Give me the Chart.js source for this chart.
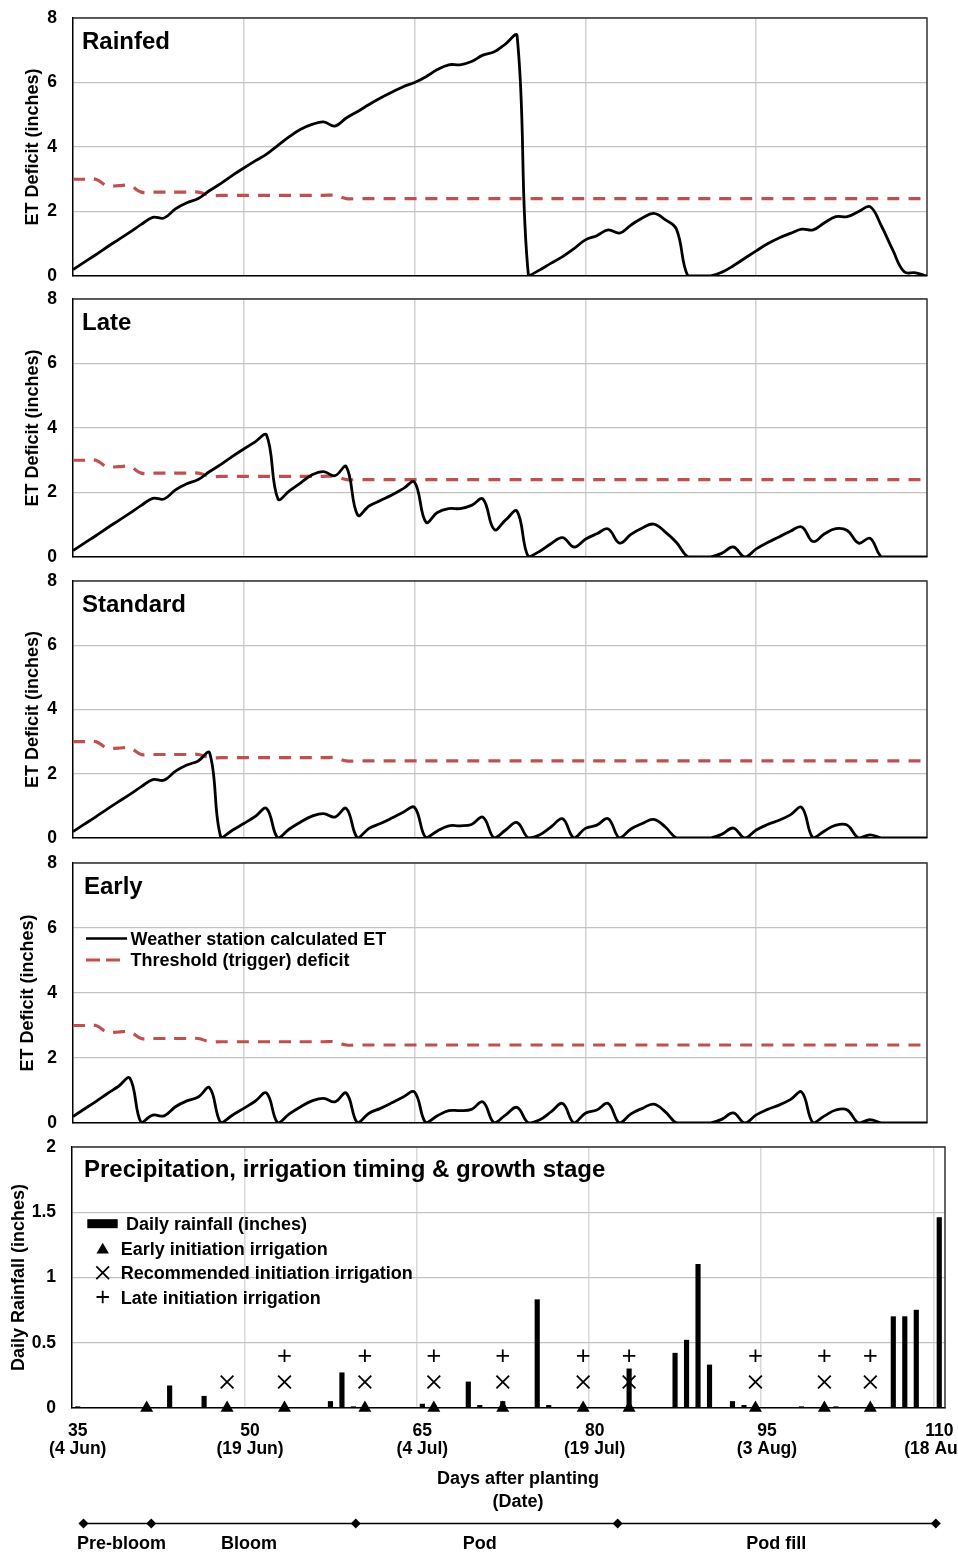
<!DOCTYPE html>
<html lang="en">
<head>
<meta charset="utf-8">
<title>ET deficit, rainfall and irrigation timing</title>
<script src="https://cdn.jsdelivr.net/npm/chart.js@4.4.1/dist/chart.umd.min.js"></script>
<style>
  html, body { margin: 0; padding: 0; background: #ffffff; overflow: hidden; }
  #figure { position: relative; width: 958px; height: 1554px; overflow: hidden; }
  #figure canvas { position: absolute; left: 0; }
</style>
</head>
<body>
<div id="figure">
  <canvas id="rainfedChart" width="958" height="282" style="top:6px"></canvas>
  <canvas id="lateChart" width="958" height="282" style="top:287px"></canvas>
  <canvas id="standardChart" width="958" height="281" style="top:569px"></canvas>
  <canvas id="earlyChart" width="958" height="284" style="top:851px"></canvas>
  <canvas id="rainChart" width="958" height="383" style="top:1135px"></canvas>
  <canvas id="stageChart" width="958" height="50" style="top:1505px"></canvas>
</div>
<script>
const FONT = "'Liberation Sans', Arial, Helvetica, sans-serif";
const RED = "#C0504D";

// ==================== DATA ====================
// days after planting, one entry per day
const days = [
  35, 36, 37, 38, 39, 40, 41, 42, 43, 44, 45, 46, 47, 48, 49,
  50, 51, 52, 53, 54, 55, 56, 57, 58, 59, 60, 61, 62, 63, 64,
  65, 66, 67, 68, 69, 70, 71, 72, 73, 74, 75, 76, 77, 78, 79,
  80, 81, 82, 83, 84, 85, 86, 87, 88, 89, 90, 91, 92, 93, 94,
  95, 96, 97, 98, 99, 100, 101, 102, 103, 104, 105, 106, 107, 108, 109,
  110
];

// threshold (trigger) deficit, inches
const threshold = [
  3.0, 3.0, 3.0, 2.8, 2.8, 2.8, 2.6, 2.6, 2.6, 2.6, 2.6, 2.6, 2.5, 2.5, 2.5,
  2.5, 2.5, 2.5, 2.5, 2.5, 2.5, 2.5, 2.5, 2.5, 2.4, 2.4, 2.4, 2.4, 2.4, 2.4,
  2.4, 2.4, 2.4, 2.4, 2.4, 2.4, 2.4, 2.4, 2.4, 2.4, 2.4, 2.4, 2.4, 2.4, 2.4,
  2.4, 2.4, 2.4, 2.4, 2.4, 2.4, 2.4, 2.4, 2.4, 2.4, 2.4, 2.4, 2.4, 2.4, 2.4,
  2.4, 2.4, 2.4, 2.4, 2.4, 2.4, 2.4, 2.4, 2.4, 2.4, 2.4, 2.4, 2.4, 2.4, 2.4,
  2.4
];

// weather station ET deficit (inches) for each scenario
const rainfedEt = [
  0.2, 0.43, 0.66, 0.9, 1.13, 1.36, 1.6, 1.82, 1.8, 2.08, 2.27, 2.4, 2.65, 2.87, 3.12,
  3.35, 3.57, 3.78, 4.05, 4.32, 4.55, 4.7, 4.78, 4.65, 4.9, 5.1, 5.32, 5.52, 5.7, 5.87,
  6.0, 6.18, 6.4, 6.55, 6.55, 6.65, 6.85, 6.95, 7.2, 7.45, 0, 0.19, 0.4, 0.6, 0.85,
  1.12, 1.25, 1.43, 1.33, 1.58, 1.8, 1.94, 1.75, 1.45, 0, 0, 0, 0.12, 0.32, 0.55,
  0.78, 1.0, 1.18, 1.32, 1.45, 1.43, 1.65, 1.84, 1.84, 2.0, 2.15, 1.55, 0.8, 0.13, 0.1,
  0
];
const lateEt = [
  0.2, 0.43, 0.66, 0.9, 1.13, 1.36, 1.6, 1.82, 1.8, 2.08, 2.27, 2.4, 2.65, 2.87, 3.12,
  3.35, 3.57, 3.78, 1.8, 2.05, 2.3, 2.55, 2.65, 2.52, 2.8, 1.3, 1.58, 1.75, 1.92, 2.12,
  2.32, 1.08, 1.38, 1.5, 1.5, 1.6, 1.8, 0.85, 1.15, 1.42, 0, 0.18, 0.42, 0.6, 0.31,
  0.55, 0.72, 0.87, 0.43, 0.7, 0.9, 1.02, 0.78, 0.45, 0, 0, 0, 0.12, 0.31, 0,
  0.25, 0.45, 0.62, 0.8, 0.93, 0.48, 0.72, 0.88, 0.82, 0.43, 0.58, 0, 0, 0, 0,
  0
];
const standardEt = [
  0.2, 0.43, 0.66, 0.9, 1.13, 1.36, 1.6, 1.82, 1.8, 2.08, 2.27, 2.4, 2.65, 0, 0.24,
  0.45, 0.67, 0.92, 0, 0.28, 0.5, 0.68, 0.76, 0.65, 0.92, 0, 0.3, 0.45, 0.62, 0.8,
  0.95, 0, 0.22, 0.38, 0.38, 0.42, 0.65, 0, 0.25, 0.48, 0, 0.1, 0.35, 0.6, 0,
  0.3, 0.4, 0.6, 0, 0.28, 0.45, 0.58, 0.35, 0, 0, 0, 0, 0.12, 0.31, 0,
  0.25, 0.42, 0.55, 0.72, 0.95, 0, 0.22, 0.4, 0.4, 0, 0.1, 0, 0, 0, 0,
  0
];
const earlyEt = [
  0.2, 0.43, 0.66, 0.9, 1.13, 1.38, 0, 0.24, 0.22, 0.5, 0.68, 0.8, 1.08, 0, 0.24,
  0.45, 0.67, 0.92, 0, 0.28, 0.5, 0.68, 0.76, 0.65, 0.92, 0, 0.3, 0.45, 0.62, 0.8,
  0.95, 0, 0.22, 0.38, 0.38, 0.42, 0.65, 0, 0.25, 0.48, 0, 0.1, 0.35, 0.6, 0,
  0.3, 0.4, 0.6, 0, 0.28, 0.45, 0.58, 0.35, 0, 0, 0, 0, 0.12, 0.31, 0,
  0.25, 0.42, 0.55, 0.72, 0.95, 0, 0.22, 0.4, 0.4, 0, 0.1, 0, 0, 0, 0,
  0
];

// daily rainfall, inches
const rainfall = [
  0.01, 0, 0, 0, 0, 0, 0, 0, 0.17, 0, 0, 0.09, 0, 0, 0,
  0, 0, 0, 0, 0, 0, 0, 0.05, 0.27, 0.01, 0, 0, 0, 0, 0,
  0.03, 0, 0, 0, 0.2, 0.02, 0, 0.05, 0, 0, 0.83, 0.02, 0, 0, 0,
  0, 0, 0, 0.3, 0, 0, 0, 0.42, 0.52, 1.1, 0.33, 0, 0.05, 0.02, 0,
  0, 0, 0, 0.01, 0, 0, 0.01, 0, 0, 0, 0, 0.7, 0.7, 0.75, 0,
  1.46
];

// irrigation dates (days after planting)
const earlyIrrigation = [41, 48, 53, 60, 66, 72, 79, 83, 94, 100, 104];
const recommendedIrrigation = [48, 53, 60, 66, 72, 79, 83, 94, 100, 104];
const lateIrrigation = [53, 60, 66, 72, 79, 83, 94, 100, 104];

// x axis labels
const tickDays = [35, 50, 65, 80, 95, 110];
const tickDates = ["(4 Jun)", "(19 Jun)", "(4 Jul)", "(19 Jul)", "(3 Aug)", "(18 Aug)"];

// growth stages
const stageBounds = [35.5, 41.4, 59.2, 82, 109.7];
const stageNames = ["Pre-bloom", "Bloom", "Pod", "Pod fill"];
const stageLabelDays = [38.8, 49.9, 70, 95.8];

// ==================== SETTINGS ====================
// heights at which the irrigation symbols are stacked in the rainfall panel
const markerRows = { early: 0, recommended: 0.2, late: 0.4 };
const etGridDays = [50, 65, 80, 95];
const rainGridDays = [49.5, 64.5, 79.5, 94.5, 109.5];

Chart.defaults.font.family = FONT;
Chart.defaults.font.weight = "bold";
Chart.defaults.color = "#000";

const baseOptions = {
  responsive: false,
  animation: false,
  events: [],
  devicePixelRatio: 1,
};

// top and right edges of the plot box
const plotFrame = {
  id: "plotFrame",
  beforeDatasetsDraw(chart) {
    const { ctx, chartArea: a } = chart;
    ctx.save();
    ctx.strokeStyle = "#333";
    ctx.lineWidth = 1.5;
    ctx.beginPath();
    ctx.moveTo(a.left, a.top);
    ctx.lineTo(a.right, a.top);
    ctx.lineTo(a.right, a.bottom);
    ctx.stroke();
    ctx.restore();
  }
};

// panel title, in-plot legend and loose text
function panelLabels(cfg) {
  return {
    id: "panelLabels",
    afterDraw(chart) {
      const { ctx, chartArea: a } = chart;
      ctx.save();
      ctx.fillStyle = "#000";
      ctx.strokeStyle = "#000";
      ctx.textBaseline = "alphabetic";
      ctx.textAlign = "left";
      if (cfg.title) {
        ctx.font = `bold 24px ${FONT}`;
        ctx.fillText(cfg.title, a.left + cfg.titleX, a.top + cfg.titleY);
      }
      ctx.font = `bold 18px ${FONT}`;
      (cfg.legend || []).forEach(item => {
        const x = a.left + item.x, y = a.top + item.y;
        ctx.save();
        if (item.kind === "line") {
          ctx.strokeStyle = item.color;
          ctx.lineWidth = item.width;
          ctx.setLineDash(item.dash || []);
          ctx.beginPath();
          ctx.moveTo(x, y);
          ctx.lineTo(x + item.len, y);
          ctx.stroke();
        } else if (item.kind === "box") {
          ctx.fillRect(x, y - item.h / 2, item.len, item.h);
        } else {
          ctx.lineWidth = item.width;
          Chart.helpers.drawPoint(ctx, { pointStyle: item.kind, radius: item.radius, borderWidth: item.width, rotation: 0 }, x, y);
        }
        ctx.restore();
        ctx.fillText(item.text, a.left + item.textX, a.top + item.textY);
      });
      (cfg.notes || []).forEach(n => {
        ctx.textAlign = "center";
        ctx.fillText(n.text, a.left + n.x, a.bottom + n.y);
      });
      ctx.restore();
    }
  };
}

// ==================== ET DEFICIT PANELS ====================
function makeEtChart(canvasId, title, etValues, extra) {
  const ctx = document.getElementById(canvasId).getContext("2d");
  return new Chart(ctx, {
    type: "line",
    data: {
      labels: days,
      datasets: [
        {
          label: "Weather station calculated ET",
          data: etValues,
          borderColor: "#000",
          borderWidth: 2.8,
          pointRadius: 0,
          tension: 0.4,
          order: 1,
        },
        {
          label: "Threshold (trigger) deficit",
          data: threshold,
          borderColor: RED,
          borderWidth: 3.2,
          borderDash: [12, 9],
          pointRadius: 0,
          tension: 0.4,
          order: 2,
        },
      ],
    },
    options: {
      ...baseOptions,
      layout: { padding: { top: 12, bottom: 12, left: 0, right: 31 } },
      plugins: { legend: { display: false }, tooltip: { enabled: false } },
      scales: {
        x: {
          type: "linear",
          min: 35,
          max: 110,
          afterBuildTicks: s => { s.ticks = etGridDays.map(v => ({ value: v })); },
          ticks: { display: false },
          grid: { drawTicks: false, color: "#d2d2d2", lineWidth: 1.5 },
          border: { color: "#000", width: 1.5 },
        },
        y: {
          min: 0,
          max: 8,
          afterFit: s => { s.width = 73; s.paddingTop = 0; s.paddingBottom = 0; },
          ticks: { stepSize: 2, padding: 16, color: "#000", font: { size: 17.5, weight: "bold" } },
          grid: { drawTicks: false, color: "#c2c2c2", lineWidth: 1.2 },
          border: { color: "#000", width: 1.5 },
          title: {
            display: true,
            text: "ET Deficit (inches)",
            color: "#000",
            font: { size: 18, weight: "bold" },
            padding: { top: extra.axisTitlePad, bottom: 0 },
          },
        },
      },
    },
    plugins: [plotFrame, panelLabels({ title, titleX: extra.titleX || 9, titleY: 31, legend: extra.legend })],
  });
}

// ==================== RAINFALL & IRRIGATION PANEL ====================
function makeRainChart() {
  const ctx = document.getElementById("rainChart").getContext("2d");
  const markerSet = (label, list, row, style, radius, width, order) => ({
    type: "scatter",
    label,
    data: list.map(d => ({ x: d, y: row })),
    pointStyle: style,
    pointRadius: radius,
    pointBorderWidth: width,
    pointBorderColor: "#000",
    pointBackgroundColor: "#000",
    clip: false,
    order,
  });

  return new Chart(ctx, {
    type: "bar",
    data: {
      labels: days,
      datasets: [
        markerSet("Late initiation irrigation", lateIrrigation, markerRows.late, "cross", 6.2, 1.8, 1),
        markerSet("Recommended initiation irrigation", recommendedIrrigation, markerRows.recommended, "crossRot", 9, 1.8, 2),
        markerSet("Early initiation irrigation", earlyIrrigation, markerRows.early, "triangle", 7.5, 0, 3),
        {
          type: "bar",
          label: "Daily rainfall (inches)",
          data: rainfall,
          backgroundColor: "#000",
          barThickness: 4.5,
          order: 4,
        },
      ],
    },
    options: {
      ...baseOptions,
      layout: { padding: { top: 12, bottom: 0, left: 0, right: 13 } },
      plugins: { legend: { display: false }, tooltip: { enabled: false } },
      scales: {
        x: {
          type: "linear",
          min: 34.5,
          max: 110.5,
          offset: false,
          afterBuildTicks: s => { s.ticks = tickDays.map(v => ({ value: v })); },
          afterFit: s => { s.height = 110; s.paddingLeft = 0; s.paddingRight = 0; },
          grid: { display: false, drawTicks: false, offset: false },
          border: { color: "#000", width: 1.5 },
          ticks: {
            autoSkip: false,
            maxRotation: 0,
            padding: 14,
            color: "#000",
            font: { size: 17.5, weight: "bold", lineHeight: 1.04 },
            callback: (v, i) => [String(v), tickDates[i]],
          },
        },
        xg: {
          type: "linear",
          axis: "x",
          position: "bottom",
          min: 34.5,
          max: 110.5,
          offset: false,
          afterBuildTicks: s => { s.ticks = rainGridDays.map(v => ({ value: v })); },
          afterFit: s => { s.height = 0; s.paddingLeft = 0; s.paddingRight = 0; },
          grid: { drawTicks: false, offset: false, color: "#dadada", lineWidth: 1.5 },
          border: { display: false },
          ticks: { display: false },
        },
        y: {
          min: 0,
          max: 2,
          afterFit: s => { s.width = 72; s.paddingTop = 0; s.paddingBottom = 0; },
          ticks: {
            stepSize: 0.5,
            padding: 16,
            color: "#000",
            font: { size: 17.5, weight: "bold" },
            callback: v => String(v),
          },
          grid: { drawTicks: false, color: "#c2c2c2", lineWidth: 1.2 },
          border: { color: "#000", width: 1.5 },
          title: {
            display: true,
            text: "Daily Rainfall (inches)",
            color: "#000",
            font: { size: 18, weight: "bold" },
            padding: { top: 8, bottom: 0 },
          },
        },
      },
    },
    plugins: [plotFrame, panelLabels({
      title: "Precipitation, irrigation timing & growth stage",
      titleX: 12,
      titleY: 30,
      legend: [
        { kind: "box", x: 15.3, y: 76.7, len: 30.4, h: 9, text: "Daily rainfall (inches)", textX: 54, textY: 82.5 },
        { kind: "triangle", x: 30.7, y: 103, radius: 7.2, width: 0, text: "Early initiation irrigation", textX: 48.7, textY: 107.5 },
        { kind: "crossRot", x: 30.7, y: 125.7, radius: 9, width: 1.8, text: "Recommended initiation irrigation", textX: 48.7, textY: 131.5 },
        { kind: "cross", x: 30.7, y: 150, radius: 6.2, width: 1.8, text: "Late initiation irrigation", textX: 48.7, textY: 156.5 },
      ],
      notes: [
        { text: "Days after planting", x: 446, y: 76 },
        { text: "(Date)", x: 446, y: 98.5 },
      ],
    })],
  });
}

// ==================== GROWTH STAGE BAR ====================
function makeStageChart() {
  const ctx = document.getElementById("stageChart").getContext("2d");
  return new Chart(ctx, {
    type: "line",
    data: {
      datasets: [{
        label: "Growth stage",
        data: stageBounds.map(d => ({ x: d, y: 0 })),
        borderColor: "#000",
        borderWidth: 1.3,
        pointStyle: "rectRot",
        pointRadius: 5,
        pointBorderWidth: 0,
        pointBackgroundColor: "#000",
        pointBorderColor: "#000",
        clip: false,
      }],
    },
    options: {
      ...baseOptions,
      layout: { padding: { top: 8, bottom: 0, left: 72, right: 13 } },
      plugins: { legend: { display: false }, tooltip: { enabled: false } },
      scales: {
        x: {
          type: "linear",
          min: 34.5,
          max: 110.5,
          afterBuildTicks: s => { s.ticks = stageLabelDays.map(v => ({ value: v })); },
          afterFit: s => { s.height = 21; s.paddingLeft = 0; s.paddingRight = 0; },
          grid: { display: false, drawTicks: false },
          border: { display: false },
          ticks: {
            autoSkip: false,
            maxRotation: 0,
            padding: 1,
            color: "#000",
            font: { size: 18, weight: "bold", lineHeight: 1 },
            callback: (v, i) => stageNames[i],
          },
        },
        y: { display: false, min: -1, max: 1 },
      },
    },
  });
}

// ==================== START ====================
document.addEventListener("DOMContentLoaded", () => {
  makeEtChart("rainfedChart", "Rainfed", rainfedEt, { axisTitlePad: 22 });
  makeEtChart("lateChart", "Late", lateEt, { axisTitlePad: 22 });
  makeEtChart("standardChart", "Standard", standardEt, { axisTitlePad: 22 });
  makeEtChart("earlyChart", "Early", earlyEt, {
    axisTitlePad: 17,
    titleX: 11,
    legend: [
      { kind: "line", x: 13, y: 75.5, len: 41, color: "#000", width: 2.5, text: "Weather station calculated ET", textX: 57.5, textY: 81.5 },
      { kind: "line", x: 13, y: 97, len: 34, color: RED, width: 3, dash: [14, 6], text: "Threshold (trigger) deficit", textX: 57.5, textY: 103 },
    ],
  });
  makeRainChart();
  makeStageChart();
});
</script>
</body>
</html>
